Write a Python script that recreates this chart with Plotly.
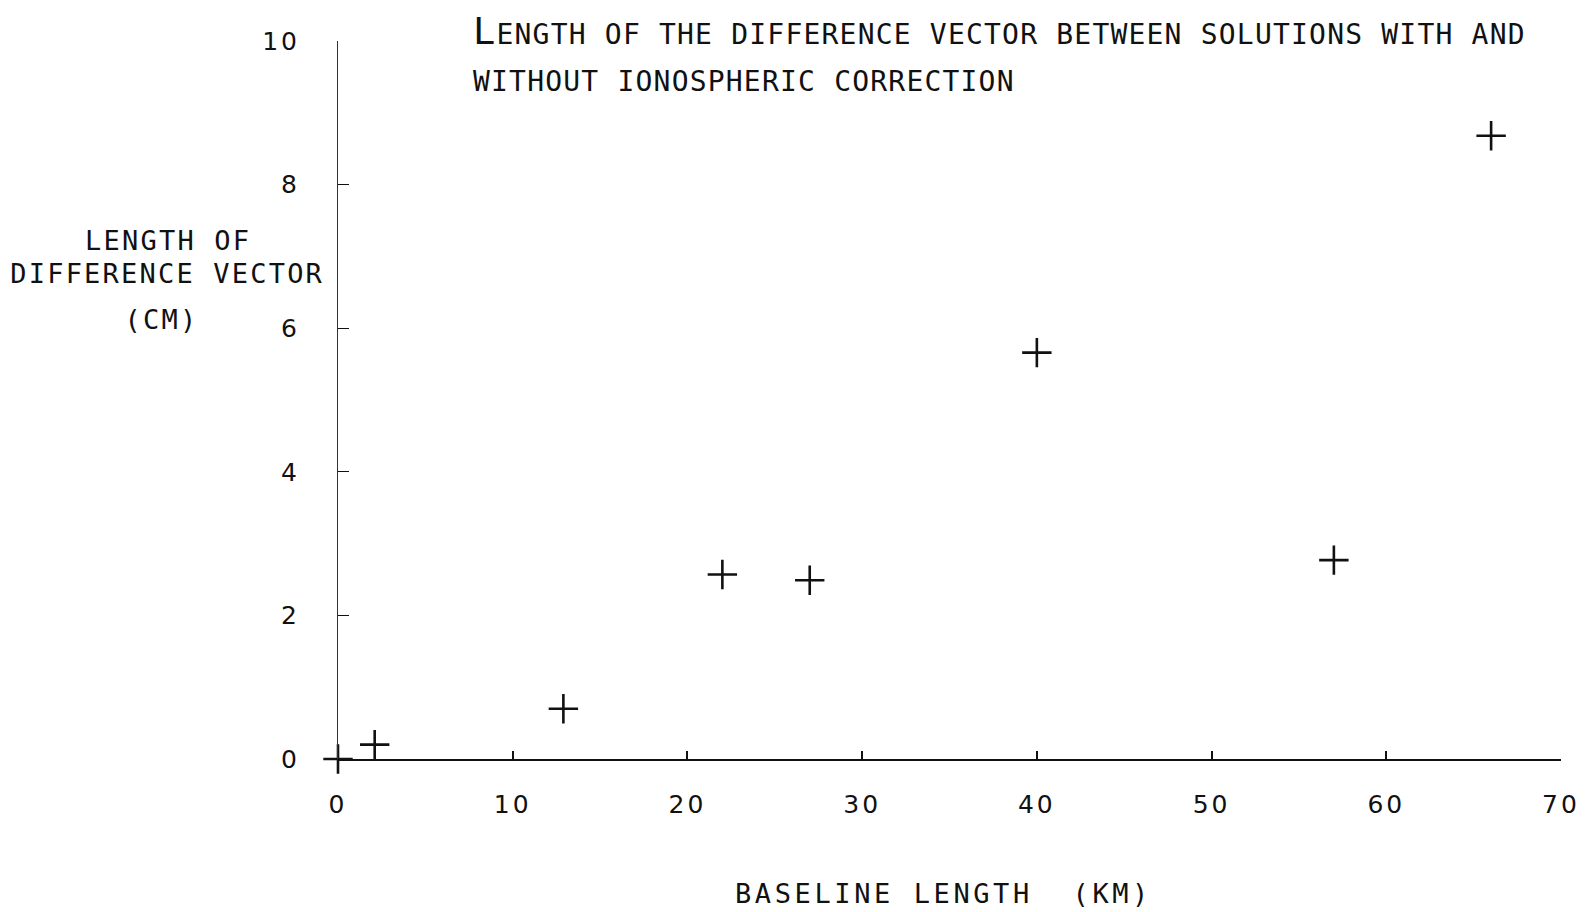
import plotly.graph_objects as go

# Baseline length (km) and length of the difference vector (cm)
baseline_km = [0.0, 2.1, 12.9, 22.0, 27.0, 40.0, 57.0, 66.0]
diff_cm = [0.0, 0.2, 0.7, 2.57, 2.49, 5.66, 2.77, 8.68]

x_ticks = [0, 10, 20, 30, 40, 50, 60, 70]
y_ticks = [0, 2, 4, 6, 8, 10]

title_lines = [
    "LENGTH OF THE DIFFERENCE VECTOR BETWEEN SOLUTIONS WITH AND",
    "WITHOUT IONOSPHERIC CORRECTION",
]
y_label_lines = ["LENGTH OF", "DIFFERENCE VECTOR", "(CM)"]
x_label = "BASELINE LENGTH\u00a0\u00a0(KM)"

MONO = "DejaVu Sans Mono"
INK = "#111111"

W, H = 1596, 912
L, R, T, B = 338, 35, 41, 153
PW, PH = W - L - R, H - T - B


def px(xp):
    return (xp - L) / PW


def py(yp):
    return (H - B - yp) / PH


fig = go.Figure()
fig.add_trace(
    go.Scatter(
        x=baseline_km,
        y=diff_cm,
        mode="markers",
        cliponaxis=False,
        marker=dict(
            symbol="cross-thin",
            size=21,
            color=INK,
            line=dict(color=INK, width=2.6),
        ),
        hoverinfo="x+y",
    )
)

annotations = []
# two-line heading, first letter set larger (small-caps style)
first = title_lines[0]
annotations.append(dict(
    text="<span style='font-size:37px'>" + first[0] + "</span>" + first[1:],
    x=px(471), y=py(55.5), xref="paper", yref="paper",
    xanchor="left", yanchor="bottom", align="left", showarrow=False,
    font=dict(family=MONO, size=28, color=INK),
))
annotations.append(dict(
    text=title_lines[1],
    x=px(471), y=py(100), xref="paper", yref="paper",
    xanchor="left", yanchor="bottom", align="left", showarrow=False,
    font=dict(family=MONO, size=28, color=INK),
))
# y-axis caption, three centred lines
for line, cx, cy in zip(y_label_lines, [168, 167, 161], [240, 273, 319]):
    annotations.append(dict(
        text=line, x=px(cx), y=py(cy), xref="paper", yref="paper",
        xanchor="center", yanchor="middle", showarrow=False,
        font=dict(family=MONO, size=27, color=INK),
    ))
# x-axis caption
annotations.append(dict(
    text=x_label, x=px(733), y=py(893), xref="paper", yref="paper",
    xanchor="left", yanchor="middle", align="left", showarrow=False,
    font=dict(family=MONO, size=27, color=INK),
))

fig.update_layout(
    width=W, height=H,
    margin=dict(l=L, r=R, t=T, b=B, pad=0),
    paper_bgcolor="white", plot_bgcolor="white",
    showlegend=False,
    annotations=annotations,
    font=dict(family=MONO, color=INK),
)
fig.update_xaxes(
    range=[0, 70], tickvals=x_ticks, ticktext=[str(v) for v in x_ticks],
    showgrid=False, zeroline=False,
    showline=True, linecolor=INK, linewidth=1.6,
    ticks="inside", ticklen=8, tickwidth=1.6, tickcolor=INK,
    ticklabelstandoff=22,
    tickfont=dict(family="DejaVu Sans", size=25, color=INK),
)
fig.update_yaxes(
    range=[0, 10], tickvals=y_ticks, ticktext=[str(v) for v in y_ticks],
    showgrid=False, zeroline=False,
    showline=True, linecolor="#333333", linewidth=1,
    ticks="inside", ticklen=11, tickwidth=1.4, tickcolor=INK,
    ticklabelstandoff=32,
    tickfont=dict(family="DejaVu Sans", size=25, color=INK),
)

# widen the lettering to the plotter's character pitch
spacing_js = """
var gd = document.getElementById('{plot_id}');
function spread() {
  gd.querySelectorAll('.xtick text, .ytick text').forEach(function (t) { t.style.letterSpacing = '3px'; });
  var pitch = {0: '1.2px', 1: '1.2px', 2: '2.2px', 3: '2.2px', 4: '2.2px', 5: '3.6px'};
  gd.querySelectorAll('g.annotation').forEach(function (g) {
    var i = g.getAttribute('data-index');
    var t = g.querySelector('text');
    if (t && pitch[i] !== undefined) { t.style.letterSpacing = pitch[i]; }
  });
}
spread();
gd.on('plotly_afterplot', spread);
"""

fig.write_html("out.html", post_script=spacing_js)
